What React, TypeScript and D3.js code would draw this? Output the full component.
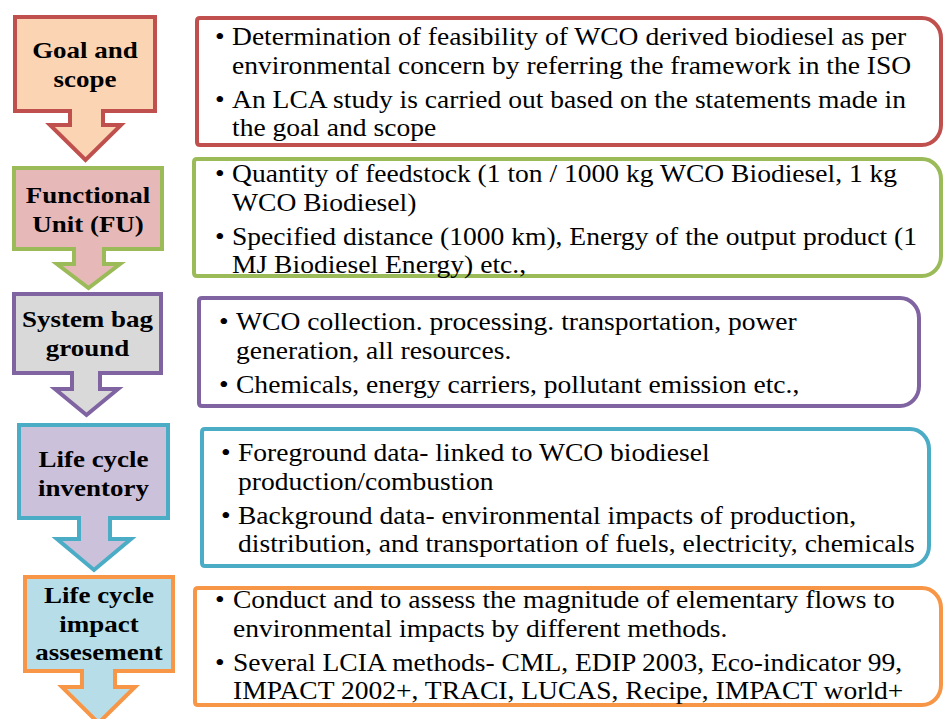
import * as d3 from "d3";
import React from "react";

// LCA framework stages (left arrows) and their notes (right boxes)
const stageLabels: string[][] = [
    ["Goal and", "scope"],
    ["Functional", "Unit (FU)"],
    ["System bag", "ground"],
    ["Life cycle", "inventory"],
    ["Life cycle", "impact", "assesement"],
];

const stageNotes: string[][][] = [
    [
        ["Determination of feasibility of WCO derived biodiesel as per", "environmental concern by referring the framework in the ISO"],
        ["An LCA study is carried out based on the statements made in", "the goal and scope"],
    ],
    [
        ["Quantity of feedstock (1 ton / 1000 kg WCO Biodiesel, 1 kg", "WCO Biodiesel)"],
        ["Specified distance (1000 km), Energy of the output product (1", "MJ Biodiesel Energy) etc.,"],
    ],
    [
        ["WCO collection. processing. transportation, power", "generation, all resources."],
        ["Chemicals, energy carriers, pollutant emission etc.,"],
    ],
    [
        ["Foreground data- linked to WCO biodiesel", "production/combustion"],
        ["Background data- environmental impacts of production,", "distribution, and transportation of fuels, electricity, chemicals"],
    ],
    [
        ["Conduct and to assess the magnitude of elementary flows to", "environmental impacts by different methods."],
        ["Several LCIA methods- CML, EDIP 2003, Eco-indicator 99,", "IMPACT 2002+, TRACI, LUCAS, Recipe, IMPACT world+"],
    ],
];

const fillColours = ["#FBD4B4", "#E6B9B8", "#D9D9D9", "#CCC1DA", "#B7DEE8"];
const strokeColours = ["#C0504D", "#9BBB59", "#8064A2", "#4BACC6", "#F79646"];

// geometry of the shapes (stroke centre lines)
const arrowLayout = [
    { x0: 15, x1: 155, y0: 17, y1: 111, sc: 86.5, sh: 16.5, hy: 125, hc: 85.5, hh: 35.5, tip: 160, label: 58 },
    { x0: 14, x1: 162, y0: 168, y1: 249, sc: 89, sh: 15, hy: 264, hc: 88.5, hh: 31.5, tip: 288, label: 203 },
    { x0: 14, x1: 161, y0: 294, y1: 373, sc: 86, sh: 14, hy: 389, hc: 86.5, hh: 31.5, tip: 415, label: 327 },
    { x0: 19, x1: 168, y0: 425, y1: 518, sc: 94.5, sh: 15.5, hy: 539, hc: 94, hh: 37, tip: 570, label: 467 },
    { x0: 25, x1: 173, y0: 577, y1: 671, sc: 98.5, sh: 16.5, hy: 687, hc: 98.5, hh: 36.5, tip: 723, label: 603 },
];

const boxLayout = [
    { x0: 197, x1: 941, y0: 18, y1: 145, bx: 215, tx: 232, base: 45 },
    { x0: 194, x1: 941, y0: 159, y1: 276, bx: 215, tx: 232, base: 182 },
    { x0: 199, x1: 919, y0: 298, y1: 406, bx: 219, tx: 236, base: 330 },
    { x0: 202, x1: 929, y0: 429, y1: 566, bx: 221, tx: 238, base: 461 },
    { x0: 195, x1: 941, y0: 588, y1: 705, bx: 215, tx: 233, base: 608 },
];

const width = 944;
const height = 719;
const font = "'Liberation Serif', 'Times New Roman', serif";
const stretch = 1.125; // the figure is slightly wider than tall
const lineStep = 28.5;
const bulletStep = 34;

function arrowPath(a: typeof arrowLayout[number]) {
    const p = d3.path();
    p.moveTo(a.x0, a.y0);
    p.lineTo(a.x1, a.y0);
    p.lineTo(a.x1, a.y1);
    p.lineTo(a.sc + a.sh, a.y1);
    p.lineTo(a.sc + a.sh, a.hy);
    p.lineTo(a.hc + a.hh, a.hy);
    p.lineTo(a.hc, a.tip);
    p.lineTo(a.hc - a.hh, a.hy);
    p.lineTo(a.sc - a.sh, a.hy);
    p.lineTo(a.sc - a.sh, a.y1);
    p.lineTo(a.x0, a.y1);
    p.closePath();
    return p.toString();
}

function boxPath(b: typeof boxLayout[number]) {
    const rl = 3, rx = 19, ry = 20;
    return [
        `M${b.x0 + rl},${b.y0}`,
        `L${b.x1 - rx},${b.y0}`,
        `A${rx},${ry} 0 0 1 ${b.x1},${b.y0 + ry}`,
        `L${b.x1},${b.y1 - ry}`,
        `A${rx},${ry} 0 0 1 ${b.x1 - rx},${b.y1}`,
        `L${b.x0 + rl},${b.y1}`,
        `Q${b.x0},${b.y1} ${b.x0},${b.y1 - rl}`,
        `L${b.x0},${b.y0 + rl}`,
        `Q${b.x0},${b.y0} ${b.x0 + rl},${b.y0}`,
        "Z",
    ].join(" ");
}

function StretchedText(props: { x: number; y: number; anchor?: string; size: number; bold?: boolean; children: string }) {
    return (
        <text
            transform={`translate(${props.x},${props.y}) scale(${stretch},1)`}
            textAnchor={props.anchor || "start"}
            fontFamily={font}
            fontSize={props.size}
            fontWeight={props.bold ? "bold" : "normal"}
            fill="#000"
        >
            {props.children}
        </text>
    );
}

function NoteBox(props: { index: number }) {
    const b = boxLayout[props.index];
    const notes = stageNotes[props.index];
    const rows: JSX.Element[] = [];
    let y = b.base;
    notes.forEach((bullet, bi) => {
        if (bi > 0) y += bulletStep - lineStep;
        rows.push(<StretchedText key={`b${bi}`} x={b.bx} y={y} size={24.5}>{"•"}</StretchedText>);
        bullet.forEach((line, li) => {
            rows.push(<StretchedText key={`l${bi}-${li}`} x={b.tx} y={y} size={24.5}>{line}</StretchedText>);
            y += lineStep;
        });
    });
    return (
        <g>
            <path d={boxPath(b)} fill="#fff" stroke={strokeColours[props.index]} strokeWidth={4} />
            {rows}
        </g>
    );
}

function StageArrow(props: { index: number }) {
    const a = arrowLayout[props.index];
    const cx = (a.x0 + a.x1) / 2;
    return (
        <g>
            <path d={arrowPath(a)} fill={fillColours[props.index]} stroke={strokeColours[props.index]} strokeWidth={4} strokeLinejoin="miter" />
            {stageLabels[props.index].map((t, i) => (
                <StretchedText key={i} x={cx} y={a.label + i * 28.5} anchor="middle" size={24} bold>{t}</StretchedText>
            ))}
        </g>
    );
}

export default function App() {
    return (
        <svg width={width} height={height} style={{ position: "fixed", left: 0, top: 0, background: "#fff" }}>
            <rect width={width} height={height} fill="#fff" />
            {stageLabels.map((_, i) => <NoteBox key={`n${i}`} index={i} />)}
            {stageLabels.map((_, i) => <StageArrow key={`a${i}`} index={i} />)}
        </svg>
    );
}
